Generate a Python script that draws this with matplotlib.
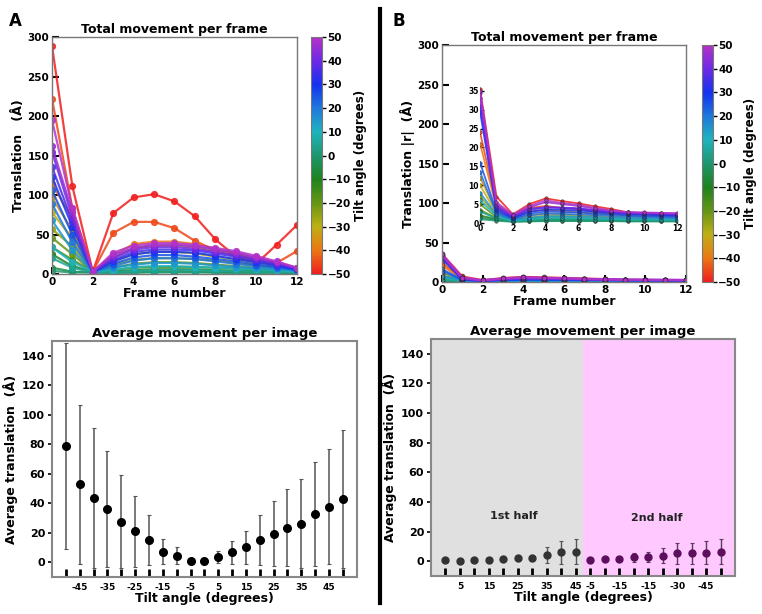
import matplotlib
matplotlib.use("Agg")
import matplotlib.pyplot as plt
from matplotlib.colors import LinearSegmentedColormap, Normalize
import matplotlib.cm as cm

plt.rcParams['font.family'] = ['DejaVu Sans']
plt.rcParams['font.weight'] = 'bold'

# tilt angles and frame numbers
tilts = [-50, -45, -40, -35, -30, -25, -20, -15, -10, -5, 0, 5, 10, 15, 20, 25, 30, 35, 40, 45, 50]
frames = list(range(13))

# panel A: total movement per frame, one row per tilt angle
move_a = [
    [289, 111, 3, 77, 97, 101, 92, 73, 44, 22, 13, 37, 62],
    [222, 83, 3, 52, 66, 66, 58, 42, 30, 24, 17, 14, 29],
    [114, 70, 3, 24, 38, 41, 41, 38, 32, 26, 20, 14, 7],
    [97, 55, 3, 20, 33, 36, 36, 34, 29, 23, 17, 12, 6],
    [78, 45, 3, 16, 25, 28, 28, 26, 22, 18, 14, 10, 5],
    [57, 35, 3, 12, 18, 20, 20, 19, 17, 14, 11, 8, 4],
    [46, 25, 3, 8, 13, 15, 15, 14, 12, 10, 8, 6, 3],
    [34, 18, 3, 5, 8, 9, 9, 9, 8, 7, 6, 4, 2],
    [25, 10, 3, 3, 5, 6, 6, 6, 5, 4, 4, 3, 2],
    [8, 3, 2, 2, 2, 3, 3, 3, 2, 2, 2, 2, 1],
    [4, 2, 2, 1, 2, 2, 2, 2, 2, 1, 1, 1, 1],
    [20, 8, 2, 2, 4, 5, 5, 5, 4, 4, 3, 3, 2],
    [34, 15, 3, 5, 9, 10, 10, 9, 8, 7, 6, 5, 3],
    [68, 30, 3, 8, 12, 14, 14, 13, 11, 9, 7, 6, 4],
    [89, 40, 3, 10, 17, 20, 20, 19, 16, 13, 10, 8, 5],
    [106, 50, 3, 13, 21, 24, 24, 22, 19, 16, 12, 9, 5],
    [123, 60, 3, 16, 25, 28, 28, 27, 23, 19, 15, 11, 6],
    [136, 66, 3, 18, 28, 31, 31, 30, 26, 22, 17, 12, 6],
    [155, 72, 3, 21, 31, 34, 34, 32, 28, 24, 19, 14, 7],
    [162, 78, 3, 24, 33, 37, 37, 35, 31, 27, 21, 15, 8],
    [195, 83, 3, 27, 36, 39, 39, 37, 33, 29, 23, 16, 8],
]

# panel B: total movement per frame (after correction)
move_b = [
    [35.5, 7.0, 2.3, 5.0, 6.5, 5.8, 5.2, 4.4, 3.7, 2.8, 2.6, 2.2, 2.0],
    [24, 4.5, 2.0, 4.0, 4.5, 4.0, 3.6, 3.0, 2.6, 2.2, 2.0, 1.8, 1.6],
    [21, 4.0, 1.5, 3.0, 3.5, 3.2, 2.8, 2.5, 2.2, 2.0, 1.8, 1.6, 1.4],
    [12, 3.0, 1.2, 2.0, 2.5, 2.3, 2.1, 1.9, 1.7, 1.5, 1.4, 1.3, 1.2],
    [10, 2.5, 1.0, 1.5, 2.0, 1.9, 1.8, 1.6, 1.5, 1.3, 1.2, 1.1, 1.0],
    [7, 2.0, 0.8, 1.2, 1.5, 1.5, 1.4, 1.3, 1.2, 1.1, 1.0, 1.0, 0.9],
    [5, 1.5, 0.7, 1.0, 1.2, 1.2, 1.1, 1.1, 1.0, 0.9, 0.9, 0.8, 0.8],
    [3.5, 1.2, 0.6, 0.8, 1.0, 1.0, 1.0, 0.9, 0.9, 0.8, 0.8, 0.7, 0.7],
    [2, 1.0, 0.5, 0.6, 0.8, 0.8, 0.8, 0.8, 0.7, 0.7, 0.7, 0.6, 0.6],
    [1.5, 0.8, 0.4, 0.5, 0.6, 0.6, 0.6, 0.6, 0.6, 0.5, 0.5, 0.5, 0.5],
    [1.0, 0.6, 0.3, 0.4, 0.5, 0.5, 0.5, 0.5, 0.5, 0.4, 0.4, 0.4, 0.4],
    [3, 1.2, 0.5, 0.8, 1.0, 1.0, 1.0, 0.9, 0.9, 0.8, 0.8, 0.8, 0.7],
    [6, 1.8, 0.6, 1.0, 1.4, 1.4, 1.3, 1.2, 1.1, 1.0, 1.0, 0.9, 0.9],
    [8, 2.2, 0.8, 1.4, 1.8, 1.8, 1.7, 1.6, 1.4, 1.3, 1.2, 1.2, 1.1],
    [13.5, 2.5, 1.0, 2.0, 2.5, 2.4, 2.3, 2.1, 1.9, 1.7, 1.6, 1.5, 1.4],
    [16, 3.0, 1.2, 2.5, 3.0, 2.9, 2.8, 2.5, 2.3, 2.0, 1.9, 1.8, 1.7],
    [29.5, 3.5, 1.4, 3.0, 3.5, 3.5, 3.3, 3.0, 2.7, 2.4, 2.3, 2.1, 2.0],
    [31, 4.0, 1.6, 3.5, 4.0, 4.0, 3.8, 3.3, 2.9, 2.6, 2.5, 2.4, 2.2],
    [33, 4.5, 1.8, 3.8, 4.2, 4.1, 3.9, 3.4, 3.0, 2.7, 2.6, 2.5, 2.4],
    [34.5, 5.0, 2.0, 4.2, 5.5, 5.0, 4.5, 3.8, 3.2, 2.8, 2.7, 2.6, 2.5],
    [35, 5.5, 2.2, 4.5, 6.0, 5.3, 4.8, 4.0, 3.3, 2.9, 2.8, 2.7, 2.6],
]

# average movement per image, panel A
avg_a = [78.8, 52.8, 43.3, 36.1, 27.5, 21.0, 14.9, 7.2, 4.5, 1.1, 1.1,
         3.6, 6.8, 10.2, 15.1, 19.4, 23.5, 26.2, 32.7, 37.5, 42.7]
err_a = [70, 54, 47.5, 39.3, 31.5, 24, 17, 8.4, 5.7, 0.8, 0.8,
         4.3, 7.9, 11.3, 17, 22, 26, 30, 35, 39, 46.7]
xlabels_a = ['', '-45', '', '-35', '', '-25', '', '-15', '', '-5', '',
             '5', '', '15', '', '25', '', '35', '', '45', '']

# average movement per image, panel B (two halves of the tilt series)
avg_b1 = [0.7, 0.3, 0.7, 0.9, 1.4, 2.0, 2.0, 4.3, 5.9, 6.5]
err_b1 = [1.0, 0.8, 1.0, 1.0, 1.3, 2.0, 2.0, 5.5, 8.0, 8.6]
avg_b2 = [0.7, 1.4, 1.6, 2.7, 2.7, 3.8, 5.2, 5.2, 5.6, 6.3]
err_b2 = [0.8, 1.0, 1.2, 3.0, 3.5, 5.0, 7.0, 7.4, 7.7, 8.4]
xlabels_b = ['', '5', '', '15', '', '25', '', '35', '', '45',
             '-5', '', '-15', '', '-15', '', '-30', '', '-45', '']

cmap = LinearSegmentedColormap.from_list('tilt', [
    (0.0, (240/255, 30/255, 30/255)),
    (0.1, (235/255, 120/255, 20/255)),
    (0.2, (190/255, 175/255, 20/255)),
    (0.3, (100/255, 150/255, 20/255)),
    (0.4, (30/255, 130/255, 30/255)),
    (0.5, (30/255, 150/255, 110/255)),
    (0.6, (30/255, 180/255, 190/255)),
    (0.7, (30/255, 120/255, 220/255)),
    (0.8, (20/255, 50/255, 240/255)),
    (0.9, (110/255, 40/255, 230/255)),
    (1.0, (180/255, 50/255, 200/255)),
])
norm = Normalize(-50, 50)

fig = plt.figure(figsize=(7.62, 6.14), dpi=100)


def style_top(ax):
    for s in ax.spines.values():
        s.set_color('#777777')
        s.set_linewidth(1.0)
    ax.tick_params(direction='in', length=5, width=1.5, labelsize=7.5, pad=2)


def add_cbar(pos):
    cax = fig.add_axes(pos)
    sm = cm.ScalarMappable(norm=norm, cmap=cmap)
    cb = fig.colorbar(sm, cax=cax, ticks=range(-50, 51, 10))
    cb.outline.set_edgecolor('#777777')
    cb.ax.tick_params(labelsize=7.5, length=3, width=1, pad=1)
    cb.set_label('Tilt angle (degrees)', fontsize=8.5, fontweight='bold', labelpad=2)


# --- top left
ax1 = fig.add_axes([0.0682, 0.5537, 0.3215, 0.386])
for t, row in zip(tilts, move_a):
    ax1.plot(frames, row, '-o', color=cmap(norm(t)), lw=1.6, ms=4.2, alpha=0.85)
ax1.set_xlim(0, 12)
ax1.set_ylim(0, 300)
ax1.set_xticks(range(0, 13, 2))
ax1.set_yticks(range(0, 301, 50))
ax1.set_title('Total movement per frame', fontsize=9, fontweight='bold', pad=3)
ax1.set_xlabel('Frame number', fontsize=9, fontweight='bold', labelpad=0)
ax1.set_ylabel('Translation   (Å)', fontsize=9, fontweight='bold', labelpad=2)
style_top(ax1)
add_cbar([0.408, 0.5537, 0.0144, 0.386])

# --- top right
ax2 = fig.add_axes([0.580, 0.5407, 0.320, 0.386])
for t, row in zip(tilts, move_b):
    ax2.plot(frames, row, '-o', color=cmap(norm(t)), lw=1.6, ms=3.5, mec='#222222', mew=0.5, alpha=0.85)
ax2.set_xlim(0, 12)
ax2.set_ylim(0, 300)
ax2.set_xticks(range(0, 13, 2))
ax2.set_yticks(range(0, 301, 50))
ax2.set_title('Total movement per frame', fontsize=9, fontweight='bold', pad=3)
ax2.set_xlabel('Frame number', fontsize=9, fontweight='bold', labelpad=0)
ax2.set_ylabel('Translation |r|  (Å)', fontsize=9, fontweight='bold', labelpad=2)
style_top(ax2)
add_cbar([0.921, 0.5407, 0.0144, 0.386])

# inset
axi = fig.add_axes([0.630, 0.6368, 0.2585, 0.2264])
for t, row in zip(tilts, move_b):
    axi.plot(frames, row, '-o', color=cmap(norm(t)), lw=1.3, ms=2.5, mec='#222222', mew=0.4, alpha=0.85)
axi.set_xlim(0, 12)
axi.set_ylim(0, 36.8)
axi.set_xticks(range(0, 13, 2))
axi.set_yticks(range(0, 36, 5))
for s in axi.spines.values():
    s.set_visible(False)
axi.patch.set_alpha(0)
axi.tick_params(direction='in', length=3, width=1, labelsize=5.5, pad=1)

# --- bottom left
ax3 = fig.add_axes([0.0682, 0.0603, 0.400, 0.3844])
ax3.errorbar(tilts, avg_a, yerr=err_a, fmt='o', color='black', ms=5.5,
             ecolor='#555555', elinewidth=1.1, capsize=1.5, capthick=0.8)
ax3.set_xlim(-55, 55)
ax3.set_ylim(-10, 150)
ax3.set_yticks(range(0, 141, 20))
ax3.set_xticks(tilts)
ax3.set_xticklabels(xlabels_a)
ax3.set_title('Average movement per image', fontsize=9.5, fontweight='bold', pad=3)
ax3.set_xlabel('Tilt angle (degrees)', fontsize=9, fontweight='bold', labelpad=0)
ax3.set_ylabel('Average translation  (Å)', fontsize=9, fontweight='bold', labelpad=3)
for s in ax3.spines.values():
    s.set_color('#888888')
    s.set_linewidth(1.5)
ax3.tick_params(axis='x', direction='in', length=6, width=2, labelsize=6.5, pad=4)
ax3.tick_params(axis='y', direction='out', length=3, width=1.2, labelsize=8, pad=2)

# --- bottom right
ax4 = fig.add_axes([0.5656, 0.0619, 0.399, 0.386])
pos1 = list(range(len(avg_b1)))
pos2 = list(range(len(avg_b1), len(avg_b1) + len(avg_b2)))
ax4.axvspan(-1, 9.5, color='#e0e0e0', lw=0)
ax4.axvspan(9.5, 20, color='#ffc8ff', lw=0)
ax4.errorbar(pos1, avg_b1, yerr=err_b1, fmt='o', color='#333333', ms=5,
             ecolor='#555555', elinewidth=1.0, capsize=1.5, capthick=0.8)
ax4.errorbar(pos2, avg_b2, yerr=err_b2, fmt='o', color='#5c0f5c', ms=5,
             ecolor='#5c3a5c', elinewidth=1.0, capsize=1.5, capthick=0.8)
ax4.text(4.7, 30.5, '1st half', fontsize=8, fontweight='bold', ha='center', va='center', color='#222222')
ax4.text(14.6, 29.3, '2nd half', fontsize=8, fontweight='bold', ha='center', va='center', color='#222222')
ax4.set_xlim(-1, 20)
ax4.set_ylim(-10, 150)
ax4.set_yticks(range(0, 141, 20))
ax4.set_xticks(pos1 + pos2)
ax4.set_xticklabels(xlabels_b)
ax4.set_title('Average movement per image', fontsize=9.5, fontweight='bold', pad=3)
ax4.set_xlabel('Tilt angle (degrees)', fontsize=9, fontweight='bold', labelpad=0)
ax4.set_ylabel('Average translation  (Å)', fontsize=9, fontweight='bold', labelpad=3)
for s in ax4.spines.values():
    s.set_color('#888888')
    s.set_linewidth(1.5)
ax4.tick_params(axis='x', direction='in', length=6, width=2, labelsize=6.5, pad=4)
ax4.tick_params(axis='y', direction='out', length=3, width=1.2, labelsize=8, pad=2)

# panel letters and divider
fig.text(0.012, 0.965, 'A', fontsize=12, fontweight='bold', va='center')
fig.text(0.515, 0.965, 'B', fontsize=12, fontweight='bold', va='center')
fig.add_artist(plt.Line2D([0.4987, 0.4987], [0.018, 0.985], color='black', lw=3))

plt.savefig('out.png', dpi=100)
